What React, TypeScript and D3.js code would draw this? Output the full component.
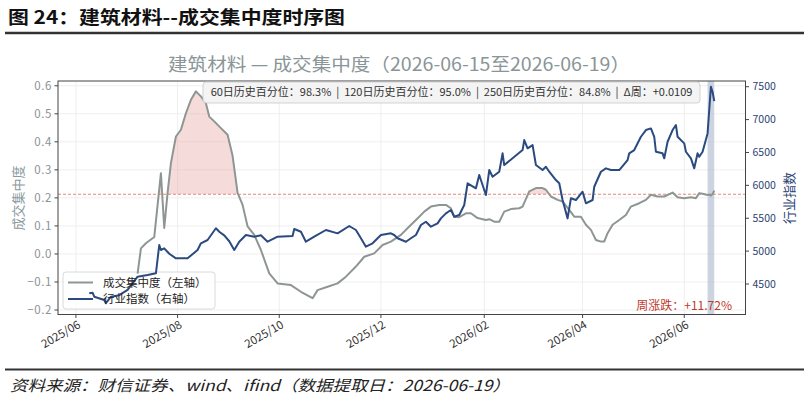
import React from "react";
import * as d3 from "d3";

// 成交集中度 (left axis)
const concDates = [
  "2025-07-08", "2025-07-10", "2025-07-13", "2025-07-17", "2025-07-18", "2025-07-22", "2025-07-24", "2025-07-26",
  "2025-07-28", "2025-07-31", "2025-08-03", "2025-08-06", "2025-08-09", "2025-08-12", "2025-08-15", "2025-08-18",
  "2025-08-20", "2025-08-23", "2025-08-27", "2025-08-31", "2025-09-03", "2025-09-06", "2025-09-09", "2025-09-12",
  "2025-09-16", "2025-09-20", "2025-09-25", "2025-09-30", "2025-10-08", "2025-10-14", "2025-10-21", "2025-10-24",
  "2025-10-30", "2025-11-05", "2025-11-10", "2025-11-16", "2025-11-21", "2025-11-27", "2025-12-02", "2025-12-07",
  "2025-12-13", "2025-12-18", "2025-12-24", "2025-12-27", "2025-12-31", "2026-01-05", "2026-01-09", "2026-01-12",
  "2026-01-14", "2026-01-17", "2026-01-21", "2026-01-24", "2026-01-28", "2026-02-02", "2026-02-04", "2026-02-07",
  "2026-02-10", "2026-02-13", "2026-02-17", "2026-02-22", "2026-02-24", "2026-02-28", "2026-03-04", "2026-03-08",
  "2026-03-10", "2026-03-13", "2026-03-17", "2026-03-20", "2026-03-24", "2026-03-27", "2026-03-31", "2026-04-03",
  "2026-04-06", "2026-04-09", "2026-04-12", "2026-04-14", "2026-04-16", "2026-04-19", "2026-04-23", "2026-04-27",
  "2026-04-30", "2026-05-05", "2026-05-09", "2026-05-12", "2026-05-16", "2026-05-20", "2026-05-25", "2026-05-28",
  "2026-06-01", "2026-06-05", "2026-06-08", "2026-06-10", "2026-06-12", "2026-06-15", "2026-06-16", "2026-06-17",
  "2026-06-18", "2026-06-19",
];
const concValues = [
  -0.07, 0.02, 0.038, 0.056, 0.06, 0.288, 0.093, 0.218,
  0.324, 0.419, 0.443, 0.502, 0.55, 0.58, 0.562, 0.538,
  0.49, 0.473, 0.449, 0.425, 0.35, 0.218, 0.175, 0.098,
  0.068, 0.014, -0.069, -0.105, -0.111, -0.135, -0.158, -0.129,
  -0.117, -0.105, -0.081, -0.045, -0.01, 0.002, 0.032, 0.044,
  0.068, 0.098, 0.133, 0.151, 0.169, 0.175, 0.175, 0.163,
  0.133, 0.131, 0.145, 0.145, 0.128, 0.121, 0.124, 0.115,
  0.115, 0.151, 0.16, 0.163, 0.169, 0.223, 0.235, 0.235,
  0.229, 0.205, 0.193, 0.187, 0.157, 0.133, 0.133, 0.104,
  0.086, 0.05, 0.044, 0.044, 0.074, 0.104, 0.121, 0.139,
  0.169, 0.181, 0.193, 0.211, 0.205, 0.205, 0.219, 0.202,
  0.199, 0.202, 0.199, 0.217, 0.215, 0.21, 0.212, 0.208,
  0.214, 0.226,
];

// 行业指数 (right axis)
const indexDates = [
  "2025-06-09", "2025-06-11", "2025-06-12", "2025-06-18", "2025-06-19", "2025-06-22", "2025-06-27", "2025-07-02",
  "2025-07-08", "2025-07-14", "2025-07-19", "2025-07-21", "2025-07-22", "2025-07-24", "2025-07-27", "2025-07-31",
  "2025-08-07", "2025-08-13", "2025-08-15", "2025-08-19", "2025-08-24", "2025-08-26", "2025-08-29", "2025-09-01",
  "2025-09-04", "2025-09-07", "2025-09-11", "2025-09-16", "2025-09-20", "2025-09-24", "2025-09-30", "2025-10-09",
  "2025-10-10", "2025-10-14", "2025-10-17", "2025-10-22", "2025-10-29", "2025-11-05", "2025-11-12", "2025-11-16",
  "2025-11-19", "2025-11-22", "2025-11-26", "2025-12-01", "2025-12-07", "2025-12-09", "2025-12-11", "2025-12-16",
  "2025-12-19", "2025-12-22", "2025-12-25", "2025-12-28", "2025-12-31", "2026-01-04", "2026-01-06", "2026-01-09",
  "2026-01-12", "2026-01-14", "2026-01-17", "2026-01-20", "2026-01-22", "2026-01-27", "2026-01-29", "2026-02-02",
  "2026-02-04", "2026-02-06", "2026-02-10", "2026-02-12", "2026-02-13", "2026-02-24", "2026-02-25", "2026-02-27",
  "2026-03-02", "2026-03-04", "2026-03-08", "2026-03-10", "2026-03-12", "2026-03-16", "2026-03-18", "2026-03-20",
  "2026-03-23", "2026-03-25", "2026-03-28", "2026-04-01", "2026-04-03", "2026-04-07", "2026-04-08", "2026-04-12",
  "2026-04-15", "2026-04-18", "2026-04-23", "2026-04-28", "2026-04-29", "2026-05-02", "2026-05-06", "2026-05-09",
  "2026-05-12", "2026-05-14", "2026-05-15", "2026-05-19", "2026-05-20", "2026-05-22", "2026-05-25", "2026-05-27",
  "2026-05-28", "2026-06-01", "2026-06-02", "2026-06-05", "2026-06-07", "2026-06-09", "2026-06-10", "2026-06-12",
  "2026-06-15", "2026-06-16", "2026-06-17", "2026-06-18", "2026-06-19",
];
const indexValues = [
  4360, 4368, 4307, 4257, 4207, 4307, 4330, 4409,
  4611, 4637, 4662, 5093, 5017, 5042, 4960, 4890,
  4890, 5017, 5119, 5169, 5347, 5295, 5240, 5150,
  5017, 5143, 5245, 5219, 5240, 5143, 5219, 5230,
  5336, 5295, 5143, 5219, 5321, 5270, 5382, 5321,
  5195, 5067, 5119, 5245, 5270, 5245, 5195, 5143,
  5195, 5245, 5397, 5447, 5371, 5422, 5498, 5574,
  5625, 5523, 5549, 5701, 6031, 5955, 6157, 5853,
  6233, 6131, 6207, 6487, 6309, 6537, 6689, 6563,
  6613, 6309, 6233, 6283, 6207, 6081, 6031, 5777,
  5498, 5803, 5777, 5903, 5727, 5777, 5979, 6207,
  6259, 6233, 6233, 6385, 6487, 6537, 6739, 6841,
  6866, 6739, 6511, 6487, 6411, 6663, 6841, 6917,
  6739, 6639, 6511, 6411, 6259, 6487, 6435, 6511,
  6790, 7150, 7500, 7420, 7280,
];

const threshold = 0.213;
const weekRange = ["2026-06-15", "2026-06-19"];
const xTickLabels = ["2025-06-01", "2025-08-01", "2025-10-01", "2025-12-01", "2026-02-01", "2026-04-01", "2026-06-01"];
const leftTicks = [-0.2, -0.1, 0.0, 0.1, 0.2, 0.3, 0.4, 0.5, 0.6];
const rightTicks = [4500, 5000, 5500, 6000, 6500, 7000, 7500];

const FONT = "'Noto Sans CJK SC', 'Noto Sans', sans-serif";
const GRAY = "#8e9694";
const NAVY = "#2b4a80";

const parse = d3.timeParse("%Y-%m-%d");

export default function App() {
  const left = 58, right = 745.5, top = 81, bottom = 314.5;

  const conc = concDates.map((d, i) => ({ date: parse(d)!, v: concValues[i] }));
  const idx = indexDates.map((d, i) => ({ date: parse(d)!, v: indexValues[i] }));

  const allDates = [...conc.map(d => d.date), ...idx.map(d => d.date)];
  const [d0, d1] = d3.extent(allDates) as [Date, Date];
  const pad = (+d1 - +d0) * 0.05;
  const x = d3.scaleTime()
    .domain([new Date(+d0 - pad), new Date(+d1 + pad)])
    .range([left, right]);

  const yL = d3.scaleLinear().domain([-0.216, 0.617]).range([bottom, top]);
  const yR = d3.scaleLinear().domain([4036, 7587]).range([bottom, top]);

  const concLine = d3.line<any>().x(d => x(d.date)).y(d => yL(d.v))(conc)!;
  const idxLine = d3.line<any>().x(d => x(d.date)).y(d => yR(d.v))(idx)!;
  const concArea = d3.area<any>().x(d => x(d.date)).y0(yL(threshold)).y1(d => yL(d.v))(conc)!;

  const fmt = d3.timeFormat("%Y/%m");
  const bandX0 = x(parse(weekRange[0])!);
  const bandX1 = x(parse(weekRange[1])!);

  return (
    <svg width={804} height={402} style={{ position: "absolute", left: 0, top: 0, background: "#fff" }} fontFamily={FONT}>
      <defs>
        <clipPath id="aboveThr">
          <rect x={left} y={top} width={right - left} height={yL(threshold) - top} />
        </clipPath>
        <clipPath id="plot">
          <rect x={left} y={top} width={right - left} height={bottom - top} />
        </clipPath>
      </defs>

      {/* report header */}
      <text x={8} y={24} fontSize={18} fontWeight="bold" fill="#111" textLength={337} lengthAdjust="spacingAndGlyphs">
        图 24：建筑材料--成交集中度时序图
      </text>
      <line x1={5} x2={804} y1={33} y2={33} stroke="#333" strokeWidth={2.5} />

      {/* chart title */}
      <text x={168} y={71} fontSize={18} fill="#8a9597" textLength={462} lengthAdjust="spacingAndGlyphs">
        建筑材料 — 成交集中度（2026-06-15至2026-06-19）
      </text>

      {/* grid */}
      {leftTicks.map(t => (
        <line key={"gy" + t} x1={left} x2={right} y1={yL(t)} y2={yL(t)} stroke="#ebebeb" strokeWidth={0.8} />
      ))}
      {xTickLabels.map(s => (
        <line key={"gx" + s} x1={x(parse(s)!)} x2={x(parse(s)!)} y1={top} y2={bottom} stroke="#ebebeb" strokeWidth={0.8} />
      ))}

      {/* legend frame sits under the lines */}
      <rect x={63} y={272} width={152} height={37} rx={3} fill="#fff" fillOpacity={0.8} stroke="#d0d0d0" strokeWidth={0.8} />

      <g clipPath="url(#plot)">
        {/* week band */}
        <rect x={bandX0} y={top} width={bandX1 - bandX0} height={bottom - top} fill="#a9b7cc" opacity={0.6} />
        {/* fill above threshold */}
        <path d={concArea} fill="#e8a6a6" opacity={0.4} clipPath="url(#aboveThr)" />
        <line x1={left} x2={right} y1={yL(threshold)} y2={yL(threshold)} stroke="#e07a6f" strokeWidth={0.9} strokeDasharray="3,2" />
        <path d={concLine} fill="none" stroke={GRAY} strokeWidth={2} strokeLinejoin="round" />
        <path d={idxLine} fill="none" stroke={NAVY} strokeWidth={2} strokeLinejoin="round" />
      </g>

      {/* frame */}
      <rect x={left} y={top} width={right - left} height={bottom - top} fill="none" stroke="#444" strokeWidth={1} />

      {/* left axis */}
      {leftTicks.map(t => (
        <g key={"lt" + t}>
          <line x1={left - 3.5} x2={left} y1={yL(t)} y2={yL(t)} stroke="#444" />
          <text x={left - 6} y={yL(t)} dy="0.35em" fontSize={11.5} fill="#8a9294" textAnchor="end" letterSpacing={0.6}>
            {d3.format(".1f")(t).replace("-", "−")}
          </text>
        </g>
      ))}
      <text transform={`translate(18,198) rotate(-90)`} fontSize={13} fill="#8a9aa0" textAnchor="middle" dy="0.35em">
        成交集中度
      </text>

      {/* right axis */}
      {rightTicks.map(t => (
        <g key={"rt" + t}>
          <line x1={right} x2={right + 3.5} y1={yR(t)} y2={yR(t)} stroke="#444" />
          <text x={right + 7} y={yR(t)} dy="0.35em" fontSize={10.5} fill="#2d4373">
            {t}
          </text>
        </g>
      ))}
      <text transform={`translate(789,198) rotate(-90)`} fontSize={13} fill="#2d4373" textAnchor="middle" dy="0.35em">
        行业指数
      </text>

      {/* x axis */}
      {xTickLabels.map(s => {
        const px = x(parse(s)!);
        return (
          <g key={"xt" + s}>
            <line x1={px} x2={px} y1={bottom} y2={bottom + 3.5} stroke="#444" />
            <text transform={`translate(${px + 1},${bottom + 5}) rotate(-30)`} fontSize={11.5} fill="#333" textAnchor="end" dy="0.75em">
              {fmt(parse(s)!)}
            </text>
          </g>
        );
      })}

      {/* stats box */}
      <rect x={203} y={82} width={497} height={21} rx={3} fill="#f3f3f3" fillOpacity={0.92} stroke="#c8c8c8" strokeWidth={0.8} />
      <text x={451.5} y={92.5} dy="0.35em" fontSize={11} fill="#333" textAnchor="middle" style={{ whiteSpace: "pre" }}>
        {"60日历史百分位：98.3%  |  120日历史百分位：95.0%  |  250日历史百分位：84.8%  |  Δ周：+0.0109"}
      </text>

      {/* legend entries */}
      <line x1={68} x2={93} y1={282.5} y2={282.5} stroke={GRAY} strokeWidth={2} />
      <text x={103} y={282.5} dy="0.35em" fontSize={11.5} fill="#222">成交集中度（左轴）</text>
      <line x1={68} x2={93} y1={299} y2={299} stroke={NAVY} strokeWidth={2} />
      <text x={103} y={299} dy="0.35em" fontSize={11.5} fill="#222">行业指数（右轴）</text>

      {/* weekly change */}
      <text x={732} y={306} dy="0.35em" fontSize={12} fill="#c0392b" textAnchor="end">
        周涨跌：+11.72%
      </text>

      {/* footer */}
      <line x1={5} x2={804} y1={369.5} y2={369.5} stroke="#333" strokeWidth={2} />
      <text x={10} y={391} fontSize={15} fontStyle="italic" fill="#222" textLength={500} lengthAdjust="spacingAndGlyphs">
        资料来源：财信证券、wind、ifind（数据提取日：2026-06-19）
      </text>
    </svg>
  );
}
